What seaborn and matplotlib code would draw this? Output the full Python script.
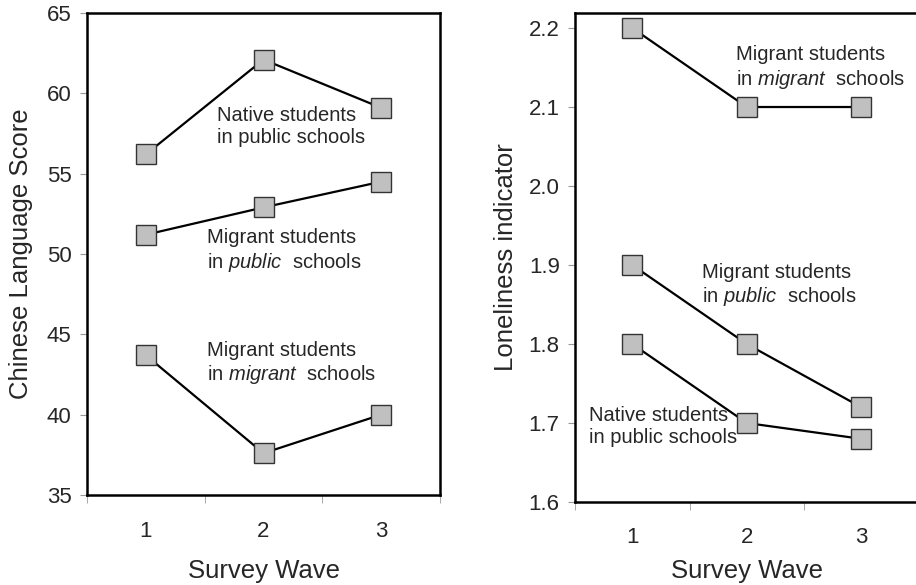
import matplotlib
matplotlib.use("Agg")
import matplotlib.pyplot as plt
import seaborn as sns
import pandas as pd

# Data
waves = [1, 2, 3]

score_native_public = [56.2, 62.1, 59.1]
score_migrant_public = [51.2, 52.9, 54.5]
score_migrant_migrant = [43.7, 37.6, 40.0]

lonely_migrant_migrant = [2.2, 2.1, 2.1]
lonely_migrant_public = [1.9, 1.8, 1.72]
lonely_native_public = [1.8, 1.7, 1.68]

groups = ["native_public", "migrant_public", "migrant_migrant"]

sns.set_style("white")
plt.rcParams["font.family"] = ["Liberation Sans", "DejaVu Sans"]
plt.rcParams["mathtext.fontset"] = "custom"
plt.rcParams["mathtext.it"] = "Liberation Sans:italic"
plt.rcParams["mathtext.rm"] = "Liberation Sans"

df_score = pd.DataFrame({
    "wave": waves * 3,
    "value": score_native_public + score_migrant_public + score_migrant_migrant,
    "group": [g for g in groups for _ in waves],
})
df_lonely = pd.DataFrame({
    "wave": waves * 3,
    "value": lonely_native_public + lonely_migrant_public + lonely_migrant_migrant,
    "group": [g for g in groups for _ in waves],
})

fig = plt.figure(figsize=(9.16, 5.85), dpi=100)
ax1 = fig.add_axes([87 / 916, 1 - 495 / 585, 353 / 916, 482 / 585])
ax2 = fig.add_axes([575 / 916, 1 - 502 / 585, 343.5 / 916, 489 / 585])


def draw(ax, df, tick_pad, label_pad):
    sns.lineplot(
        data=df, x="wave", y="value", hue="group", ax=ax,
        palette=["black"] * 3, marker="s", markersize=14.5,
        markerfacecolor="#c0c0c0", markeredgecolor="#333333",
        markeredgewidth=1.0, linewidth=1.6, legend=False,
    )
    ax.set_xlim(0.5, 3.5)
    ax.set_xticks([1, 2, 3])
    ax.set_xticks([0.5, 1.5, 2.5, 3.5], minor=True)
    ax.tick_params(axis="x", which="major", length=0, pad=tick_pad, labelsize=16)
    ax.tick_params(axis="x", which="minor", length=6, color="#999999",
                   direction="out", bottom=True)
    ax.tick_params(axis="y", length=5, color="#999999", direction="out",
                   left=True, pad=6, labelsize=16)
    for s in ax.spines.values():
        s.set_linewidth(1.8)
        s.set_color("black")
    ax.set_xlabel("Survey Wave", fontsize=18.5, labelpad=label_pad)


draw(ax1, df_score, 19, 12)
ax1.set_ylim(35, 65)
ax1.set_yticks([35, 40, 45, 50, 55, 60, 65])
ax1.set_ylabel("Chinese Language Score", fontsize=18.5, labelpad=10)

draw(ax2, df_lonely, 18, 8)
ax2.set_ylim(1.6, 2.219)
ax2.set_yticks([1.6, 1.7, 1.8, 1.9, 2.0, 2.1, 2.2])
ax2.set_yticklabels(["1.6", "1.7", "1.8", "1.9", "2.0", "2.1", "2.2"])
ax2.set_ylabel("Loneliness indicator", fontsize=18.5, labelpad=8)

lab = dict(fontsize=14.5, va="top", ha="left", linespacing=1.2)
ax1.text(1.605, 59.2, "Native students\nin public schools", **lab)
ax1.text(1.52, 51.6, "Migrant students\nin $\\it{public}$  schools", **lab)
ax1.text(1.52, 44.6, "Migrant students\nin $\\it{migrant}$  schools", **lab)

ax2.text(1.91, 2.178, "Migrant students\nin $\\it{migrant}$  schools", **lab)
ax2.text(1.61, 1.903, "Migrant students\nin $\\it{public}$  schools", **lab)
ax2.text(0.62, 1.722, "Native students\nin public schools", **lab)

fig.savefig("out.png", dpi=100)
